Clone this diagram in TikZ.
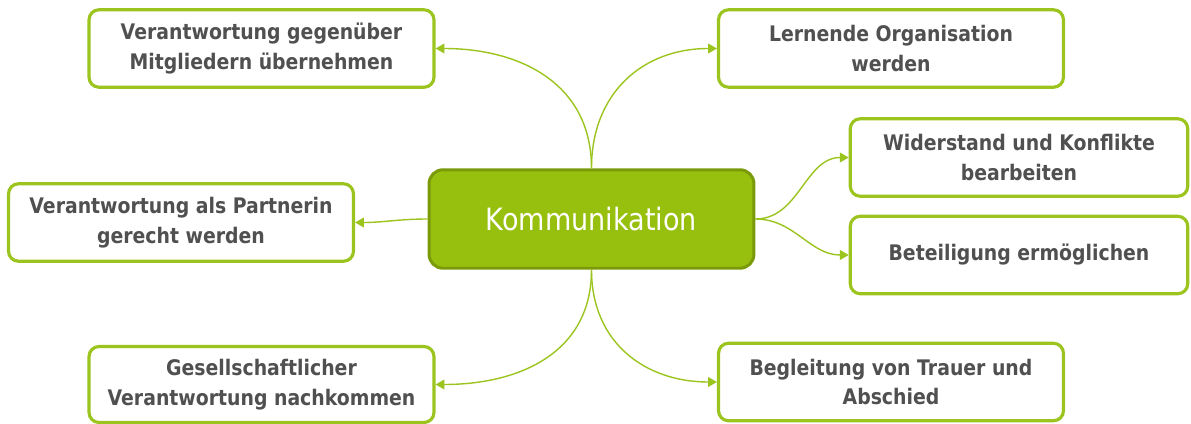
\documentclass[tikz,border=0pt]{standalone}
\usepackage{fontspec}
\setmainfont{DejaVu Sans}[FakeStretch=0.88]
\usetikzlibrary{arrows.meta}
\definecolor{kgreen}{HTML}{97BF0D}
\definecolor{kdark}{HTML}{7A9A0A}
\definecolor{kline}{HTML}{9CC41E}
\definecolor{ktext}{HTML}{505050}
\begin{document}
\begin{tikzpicture}[x=0.02cm,y=-0.02cm,
		topic/.style={draw=kline,line width=1.8pt,rounded corners=0.2cm,fill=white,
			minimum width=6.9cm,minimum height=1.55cm,align=center,
			text=ktext,font=\fontsize{12.2}{16.8}\selectfont\bfseries},
		centre/.style={draw=kdark,line width=1.7pt,rounded corners=0.28cm,fill=kgreen,
			minimum width=6.5cm,minimum height=1.97cm,text=white,
			font=\fontsize{17.5}{20}\selectfont},
		link/.style={kline,line width=0.8pt,-{Triangle[length=5pt,width=5.5pt]}}]
		\useasboundingbox (0,0) rectangle (1191,423);
		\node [centre] (kom) at (591.5,219) {Kommunikation};
		\node [topic] (mitglieder) at (261.5,48.5) {Verantwortung gegenüber\\Mitgliedern übernehmen};
		\node [topic] (lernend) at (891,48.5) {Lernende Organisation\\werden};
		\node [topic,minimum width=6.75cm] (widerstand) at (1019,157.5) {Widerstand und Konflikte\\bearbeiten};
		\node [topic,minimum width=6.75cm] (beteiligung) at (1019,255) {Beteiligung ermöglichen};
		\node [topic] (partnerin) at (181,222.5) {Verantwortung als Partnerin\\gerecht werden};
		\node [topic,minimum height=1.52cm] (gesellschaft) at (261.5,384.5) {Gesellschaftlicher\\Verantwortung nachkommen};
		\node [topic] (trauer) at (891,382) {Begleitung von Trauer und\\Abschied};
		% connectors
		\draw [link] (kom.north) to[out=90,in=0,looseness=1.1] (mitglieder.east);
		\draw [link] (kom.north) to[out=90,in=180,looseness=1.1] (lernend.west);
		\draw [link] (kom.south) to[out=-90,in=0,looseness=1.1] (gesellschaft.east);
		\draw [link] (kom.south) to[out=-90,in=180,looseness=1.1] (trauer.west);
		\draw [link] (kom.west) to[out=180,in=0] (partnerin.east);
		\draw [link] (kom.east) to[out=0,in=180] (widerstand.west);
		\draw [link] (kom.east) to[out=0,in=180] (beteiligung.west);
	\end{tikzpicture}
\end{document}
